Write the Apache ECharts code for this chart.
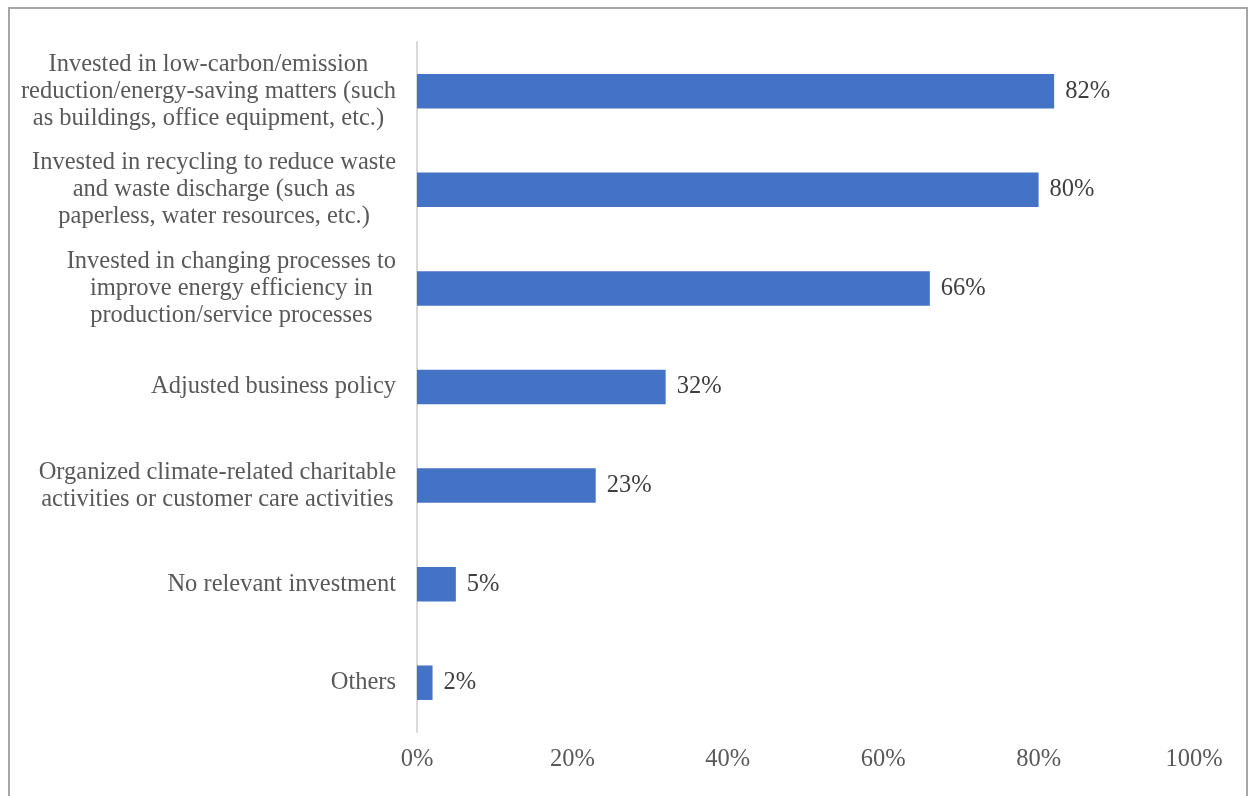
<!DOCTYPE html>
<html>
<head>
<meta charset="utf-8">
<title>Climate-related investments</title>
<script src="https://cdn.jsdelivr.net/npm/echarts@6/dist/echarts.min.js"></script>
<style>
  html, body { margin: 0; padding: 0; background: #ffffff; }
  #frame {
    position: absolute; left: 8px; top: 7px; width: 1240px; height: 800px;
    border: 2px solid #a6a6a6; box-sizing: border-box;
  }
  #chart { position: absolute; left: 0; top: 0; width: 1254px; height: 796px; }
</style>
</head>
<body>
<div id="frame"></div>
<div id="chart"></div>
<script>
// Actions taken, top to bottom
const categories = [
  'Invested in low-carbon/emission\nreduction/energy-saving matters (such\nas buildings, office equipment, etc.)',
  'Invested in recycling to reduce waste\nand waste discharge (such as\npaperless, water resources, etc.)',
  'Invested in changing processes to\nimprove energy efficiency in\nproduction/service processes',
  'Adjusted business policy',
  'Organized climate-related charitable\nactivities or customer care activities',
  'No relevant investment',
  'Others'
];

// Share of respondents (%)
const shares = [82, 80, 66, 32, 23, 5, 2];

// Percentage axis ticks
const tickValues = [0, 20, 40, 60, 80, 100];

const serif = '"Liberation Serif", "Times New Roman", serif';

const chart = echarts.init(document.getElementById('chart'), null, { renderer: 'canvas' });

chart.setOption({
  animation: false,
  backgroundColor: 'transparent',
  grid: { left: 417, right: 60, top: 42, bottom: 64, containLabel: false },
  xAxis: {
    type: 'value',
    min: tickValues[0],
    max: tickValues[tickValues.length - 1],
    interval: tickValues[1] - tickValues[0],
    axisLine: { show: false },
    axisTick: { show: false },
    splitLine: { show: false },
    axisLabel: {
      formatter: '{value}%',
      color: '#595959',
      fontFamily: serif,
      fontSize: 24.5,
      margin: 15
    }
  },
  yAxis: {
    type: 'category',
    inverse: true,
    data: categories,
    axisLine: { show: true, lineStyle: { color: '#d9d9d9', width: 2 } },
    axisTick: { show: false },
    axisLabel: {
      margin: 21,
      align: 'right',
      // each line centred within its label block
      formatter: function (v) {
        return v.split('\n').map(function (l) { return '{c|' + l + '}'; }).join('\n');
      },
      rich: {
        c: {
          align: 'center',
          color: '#595959',
          fontFamily: serif,
          fontSize: 24.5,
          lineHeight: 27
        }
      }
    }
  },
  series: [{
    type: 'bar',
    data: shares,
    barCategoryGap: '65%',
    itemStyle: { color: '#4472c4' },
    label: {
      show: true,
      position: 'right',
      distance: 11,
      formatter: '{c}%',
      color: '#404040',
      fontFamily: serif,
      fontSize: 24.5
    }
  }]
});
</script>
</body>
</html>
